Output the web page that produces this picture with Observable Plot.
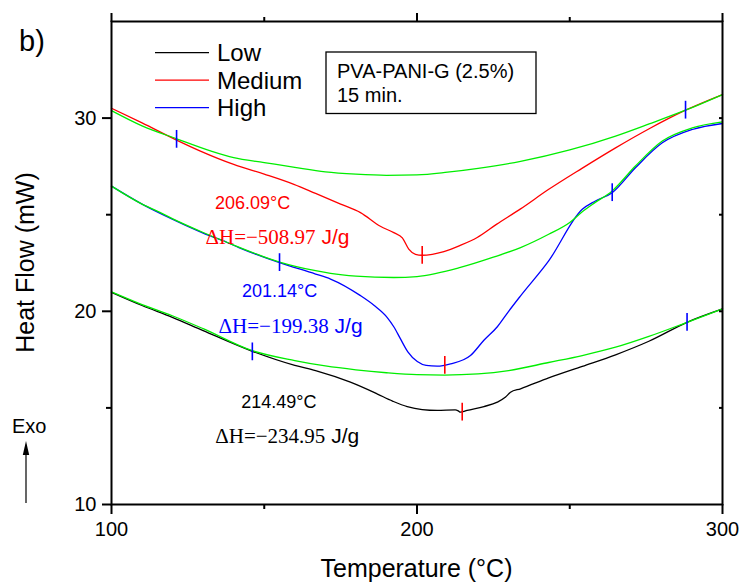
<!DOCTYPE html>
<html><head><meta charset="utf-8">
<script src="https://cdn.jsdelivr.net/npm/d3@7"></script>
<script src="https://cdn.jsdelivr.net/npm/@observablehq/plot@0.6"></script>
<style>body{margin:0;background:#fff}</style>
</head><body><div id="chart"></div>
<script>
// ---- data ----
const seriesNames = ["Low", "Medium", "High"];
const seriesColors = ["black", "#ff0000", "#0000ff"];
const baselineColor = "#00ee00";

const lowT  = [100, 110, 119.9, 130, 146.1, 160, 166.8, 178.2, 186.9, 192, 196.8, 206.6, 212.5, 213.5, 214.2, 216.4, 221.9, 226.3, 229, 230.6, 233.9, 243.1, 254.1, 265, 275.9, 288.4, 300];
const lowHF = [20.98, 20.3, 19.69, 19.0, 17.93, 17.2, 16.93, 16.33, 15.73, 15.35, 15.07, 14.87, 14.9, 14.85, 14.78, 14.87, 15.07, 15.3, 15.56, 15.81, 15.99, 16.55, 17.15, 17.75, 18.45, 19.43, 20.12];
const lowBaseT  = [100, 110, 119.9, 130, 146.1, 160, 170, 180, 190, 200, 209, 220, 230, 243.1, 254.1, 265, 275.9, 288.4, 300];
const lowBaseHF = [21.01, 20.35, 19.77, 19.1, 17.96, 17.45, 17.17, 16.97, 16.82, 16.72, 16.70, 16.76, 16.93, 17.35, 17.71, 18.14, 18.7, 19.43, 20.12];

const medT  = [100, 110, 121.3, 129.1, 140, 150, 159.7, 166.8, 175, 181.5, 188, 192.4, 195.2, 197.3, 199.5, 201.7, 205, 208.8, 214, 219.7, 226, 233.9, 243, 254, 265, 276, 287.9, 300];
const medHF = [30.51, 29.75, 28.86, 28.29, 27.6, 27.1, 26.57, 26.1, 25.55, 25.11, 24.4, 24.07, 23.8, 23.22, 22.95, 22.9, 22.95, 23.09, 23.4, 23.82, 24.5, 25.3, 26.3, 27.4, 28.46, 29.45, 30.41, 31.22];
const medBaseT  = [100, 110, 121.3, 132.4, 140, 150, 160, 170, 180, 190, 200, 210, 220, 233.9, 250, 265, 276, 287.9, 300];
const medBaseHF = [30.39, 29.6, 28.93, 28.3, 27.95, 27.7, 27.45, 27.22, 27.1, 27.04, 27.06, 27.2, 27.4, 27.76, 28.35, 29.07, 29.7, 30.41, 31.22];

const highT  = [100, 110, 119.9, 130, 137.9, 141.7, 155, 166.8, 171.7, 181.5, 186, 190.2, 192.4, 194.6, 197, 200.1, 203, 206.6, 211, 217.5, 221.9, 226.3, 230, 233.9, 243.1, 254.1, 258.4, 263.9, 271.5, 280.3, 290.1, 300];
const highHF = [26.48, 25.55, 24.77, 24.05, 23.56, 23.3, 22.52, 21.93, 21.67, 20.81, 20.3, 19.69, 19.2, 18.57, 17.9, 17.4, 17.2, 17.16, 17.28, 17.71, 18.5, 19.2, 20.0, 20.8, 22.61, 25.28, 25.71, 26.14, 27.43, 28.72, 29.41, 29.72];
const highBaseT  = [100, 110, 116, 119.9, 130, 137.9, 155, 166.8, 171.7, 180, 192.4, 200, 214.2, 225, 233.9, 243.1, 250, 254.1, 258, 263.9, 271.5, 280.3, 290.1, 300];
const highBaseHF = [26.48, 25.55, 25.11, 24.8, 24.08, 23.56, 22.55, 22.10, 21.96, 21.82, 21.75, 21.8, 22.27, 22.8, 23.30, 23.99, 24.6, 25.15, 25.6, 26.23, 27.52, 28.81, 29.49, 29.80];

// integration limit / peak markers
const markT     = [121.3, 201.7, 287.9, 155, 209.1, 263.9, 146.1, 214.8, 288.4];
const markHF    = [28.9, 22.9, 30.41, 22.52, 17.2, 26.14, 17.9, 14.78, 19.43];
const markColor = ["#0000ff", "#ff0000", "#0000ff", "#0000ff", "#ff0000", "#0000ff", "#0000ff", "#ff0000", "#0000ff"];

// annotations
const peakLabels = ["206.09°C", "201.14°C", "214.49°C"];
const peakLabelT = [146.2, 155, 154.8];
const peakLabelHF = [25.30, 20.75, 14.97];
const dhLabels = ["ΔH=−508.97", "ΔH=−199.38", "ΔH=−234.95"];
const dhEndT = [166.8, 171.1, 170.0];
const dhHF = [23.49, 18.86, 13.18];
const annColors = ["#ff0000", "#0000ff", "black"];

const xMajor = [100, 200, 300], xMinor = [150, 250];
const yMajor = [10, 20, 30], yMinor = [15, 25];

// ---- build tables ----
const rows = (T, H) => T.map((t, i) => ({t, hf: H[i]}));
const marks = markT.map((t, i) => ({t, hf: markHF[i], c: markColor[i]}));
const peaks = peakLabels.map((s, i) => ({s, t: peakLabelT[i], hf: peakLabelHF[i], c: annColors[i]}));
const dhs = dhLabels.map((s, i) => ({s, t: dhEndT[i], hf: dhHF[i], c: annColors[i]}));

const SANS = "'Liberation Sans', Arial, Helvetica, sans-serif";
const SERIF = "'Liberation Serif', 'Times New Roman', serif";

function decor(index, scales, values, dims) {
  const g = d3.create("svg:g").attr("font-family", SANS).attr("fill", "black").attr("text-anchor", "start");
  const cx = (dims.marginLeft + dims.width - dims.marginRight) / 2;
  const cy = (dims.marginTop + dims.height - dims.marginBottom) / 2;
  // panel letter
  g.append("text").attr("x", 19).attr("y", 51).attr("font-size", 29).text("b)");
  // legend
  seriesNames.forEach((name, i) => {
    const ly = 52.7 + i * 27.5;
    g.append("line").attr("x1", 155).attr("x2", 209).attr("y1", ly).attr("y2", ly)
      .attr("stroke", seriesColors[i]).attr("stroke-width", 1.3);
    g.append("text").attr("x", 217).attr("y", ly + 8.5).attr("font-size", 24).text(name);
  });
  // info box
  g.append("rect").attr("x", 326).attr("y", 52).attr("width", 210).attr("height", 61.5)
    .attr("fill", "none").attr("stroke", "black").attr("stroke-width", 1.3);
  g.append("text").attr("x", 337).attr("y", 77.5).attr("font-size", 20).text("PVA-PANI-G (2.5%)");
  g.append("text").attr("x", 337).attr("y", 102).attr("font-size", 20).text("15 min.");
  // Exo arrow
  g.append("text").attr("x", 12).attr("y", 433).attr("font-size", 20).text("Exo");
  g.append("line").attr("x1", 26).attr("x2", 26).attr("y1", 503).attr("y2", 452)
    .attr("stroke", "black").attr("stroke-width", 1.2);
  g.append("path").attr("d", "M26,441 L22.8,455 L29.2,455 Z").attr("fill", "black");
  // axis titles
  g.append("text").attr("x", cx).attr("y", 577).attr("text-anchor", "middle")
    .attr("font-size", 25).text("Temperature (°C)");
  g.append("text").attr("transform", `translate(34,${cy}) rotate(-90)`).attr("text-anchor", "middle")
    .attr("font-size", 25).text("Heat Flow (mW)");
  return g.node();
}

const lineOpts = (color) => ({x: "t", y: "hf", stroke: color, strokeWidth: 1.3, curve: "monotone-x"});

const chart = Plot.plot({
  width: 744, height: 586,
  marginLeft: 111, marginRight: 22, marginTop: 21, marginBottom: 82,
  x: {domain: [100, 300]},
  y: {domain: [10, 35]},
  style: {fontFamily: SANS, background: "white", color: "black", overflow: "visible"},
  marks: [
    Plot.line(rows(lowT, lowHF), lineOpts(seriesColors[0])),
    Plot.line(rows(medT, medHF), lineOpts(seriesColors[1])),
    Plot.line(rows(highT, highHF), lineOpts(seriesColors[2])),
    Plot.line(rows(lowBaseT, lowBaseHF), lineOpts(baselineColor)),
    Plot.line(rows(medBaseT, medBaseHF), lineOpts(baselineColor)),
    Plot.line(rows(highBaseT, highBaseHF), lineOpts(baselineColor)),
    Plot.ruleX(marks, {x: "t", y1: d => d.hf - 0.46, y2: d => d.hf + 0.46, stroke: "c", strokeWidth: 1.6}),
    Plot.text(peaks, {x: "t", y: "hf", text: "s", fill: "c", fontSize: 18, textAnchor: "middle", lineAnchor: "bottom"}),
    Plot.text(dhs, {x: "t", y: "hf", text: "s", fill: "c", fontSize: 21, textAnchor: "end", lineAnchor: "bottom", fontFamily: SERIF}),
    Plot.text(dhs, {x: "t", y: "hf", text: () => "\u00a0J/g", fill: "c", fontSize: 21, textAnchor: "start", lineAnchor: "bottom"}),
    Plot.frame({stroke: "black", strokeWidth: 2}),
    Plot.axisX(xMajor, {anchor: "bottom", tickSize: 10, tickPadding: 7, fontSize: 20, strokeWidth: 2, label: null}),
    Plot.axisX(xMinor, {anchor: "bottom", tickSize: 5, tickFormat: () => "", strokeWidth: 2, label: null}),
    Plot.axisX(xMajor, {anchor: "top", tickSize: 9, tickFormat: () => "", strokeWidth: 2, label: null}),
    Plot.axisX(xMinor, {anchor: "top", tickSize: 5, tickFormat: () => "", strokeWidth: 2, label: null}),
    Plot.axisY(yMajor, {anchor: "left", tickSize: 9, tickPadding: 6, fontSize: 20, strokeWidth: 2, label: null}),
    Plot.axisY(yMinor, {anchor: "left", tickSize: 5, tickFormat: () => "", strokeWidth: 2, label: null}),
    Plot.axisY([...yMajor, ...yMinor].filter(v => v > 10), {anchor: "right", tickSize: -4, tickFormat: () => "", strokeWidth: 2, label: null}),
    decor
  ]
});
document.getElementById("chart").appendChild(chart);
</script>
</body></html>
